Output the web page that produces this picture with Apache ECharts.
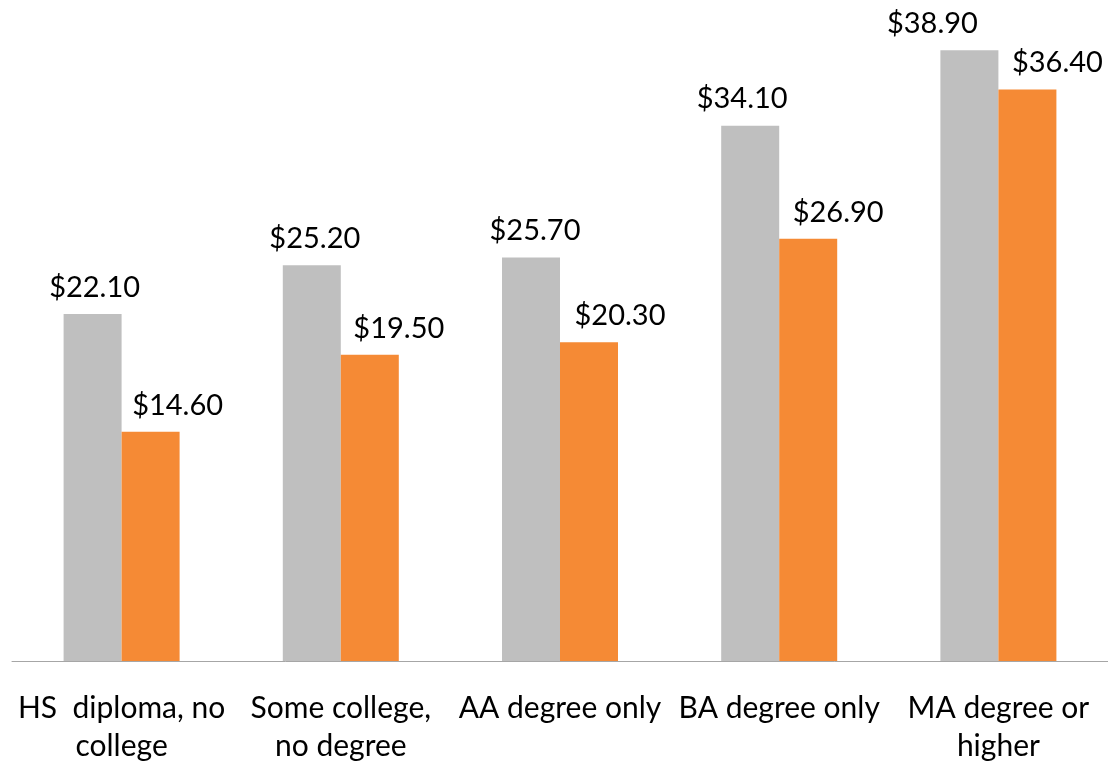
<!DOCTYPE html>
<html>
<head>
<meta charset="utf-8">
<script src="https://cdn.jsdelivr.net/npm/echarts@6/dist/echarts.min.js"></script>
<style>
html,body{margin:0;padding:0;background:#fff;}
#chart{width:1108px;height:765px;}
</style>
</head>
<body>
<div id="chart"></div>
<script>
const categories = ["HS  diploma, no\ncollege", "Some college,\nno degree", "AA degree only", "BA degree only", "MA degree or\nhigher"];
const greyValues = [22.1, 25.2, 25.7, 34.1, 38.9];
const orangeValues = [14.6, 19.5, 20.3, 26.9, 36.4];

// manual label nudges (horizontal px) as placed in the original
const greyLabelShift = [2, 3, 4, -8, -37];
const orangeLabelShift = [27, 29, 31, 30, 30];

const chart = echarts.init(document.getElementById('chart'));
const font = 'Lato, "Open Sans", sans-serif';
const labelCfg = {
  show: true,
  position: 'top',
  distance: 12,
  color: '#000',
  fontSize: 29,
  fontFamily: font,
  formatter: p => '$' + p.value.toFixed(2)
};
function build(values, shifts) {
  return values.map((v, i) => ({value: v, label: {offset: [shifts[i], 0]}}));
}
chart.setOption({
  animation: false,
  grid: {left: 12, right: 0, top: 33, bottom: 101, containLabel: false},
  xAxis: {
    type: 'category',
    data: categories,
    axisLine: {lineStyle: {color: '#a6a6a6', width: 1}},
    axisTick: {show: false},
    axisLabel: {color: '#000', fontSize: 30, fontFamily: font, lineHeight: 38, margin: 28, interval: 0}
  },
  yAxis: {
    type: 'value', min: 0, max: 40,
    show: false,
    splitLine: {show: false}
  },
  series: [
    {type: 'bar', data: build(greyValues, greyLabelShift), barWidth: 58, barGap: '0%', itemStyle: {color: '#bfbfbf'}, label: labelCfg},
    {type: 'bar', data: build(orangeValues, orangeLabelShift), barWidth: 58, barGap: '0%', itemStyle: {color: '#f58a35'}, label: labelCfg}
  ]
});
</script>
</body>
</html>
